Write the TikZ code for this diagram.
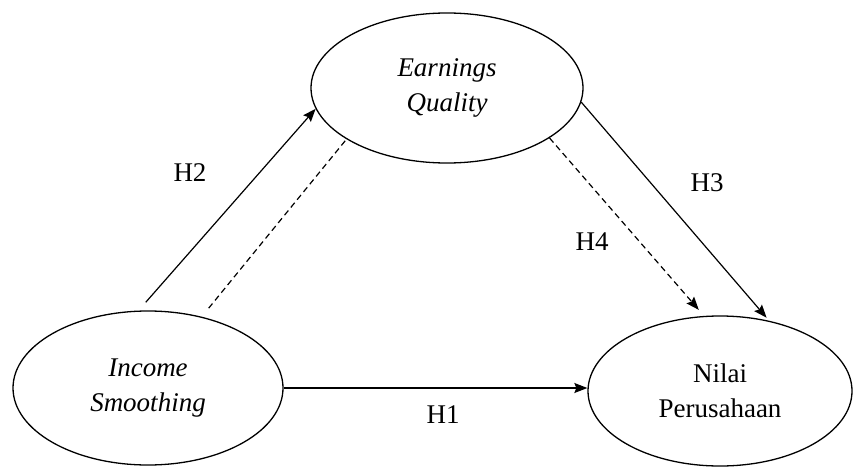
\documentclass[tikz,border=0pt]{standalone}
\usepackage{fontspec}
\setmainfont{Liberation Serif}
\usetikzlibrary{arrows.meta,shapes.geometric}
\begin{document}
\begin{tikzpicture}[x=1pt,y=-1pt,
  latent/.style={draw, ellipse, line width=1.3pt, inner sep=0pt, align=center,
    font=\fontsize{27}{35}\selectfont},
  arr/.style={line width=1.2pt, -{Stealth[length=13pt,width=10pt,inset=2pt]}},
  dline/.style={line width=1.2pt, dash pattern=on 6pt off 4pt},
  hlabel/.style={inner sep=0pt, font=\fontsize{27}{35}\selectfont}]
\useasboundingbox (0,0) rectangle (853,468);
\node[latent, minimum width=272pt, minimum height=150pt] (eq) at (447,88) {\itshape Earnings\\\itshape Quality};
\node[latent, minimum width=270pt, minimum height=154pt] (is) at (148,388) {\itshape Income\\\itshape Smoothing};
\node[latent, minimum width=264pt, minimum height=150pt] (np) at (720,391) {Nilai\\Perusahaan};
\draw[arr] (is.east) -- (is.east -| np.west);
\draw[arr, shorten <=11pt] (is.97) -- (eq.189);
\draw[dline, shorten <=11pt] (is.53) -- (eq.207);
\draw[arr, shorten >=4pt] (eq.354) -- (np.55);
\draw[arr, dline, shorten >=8pt] (eq.334) -- (np.102);
\node[hlabel] (h1) at (443,415) {H1};
\node[hlabel] (h2) at (190,173) {H2};
\node[hlabel] (h3) at (707,183) {H3};
\node[hlabel] (h4) at (592,242) {H4};
\end{tikzpicture}
\end{document}
